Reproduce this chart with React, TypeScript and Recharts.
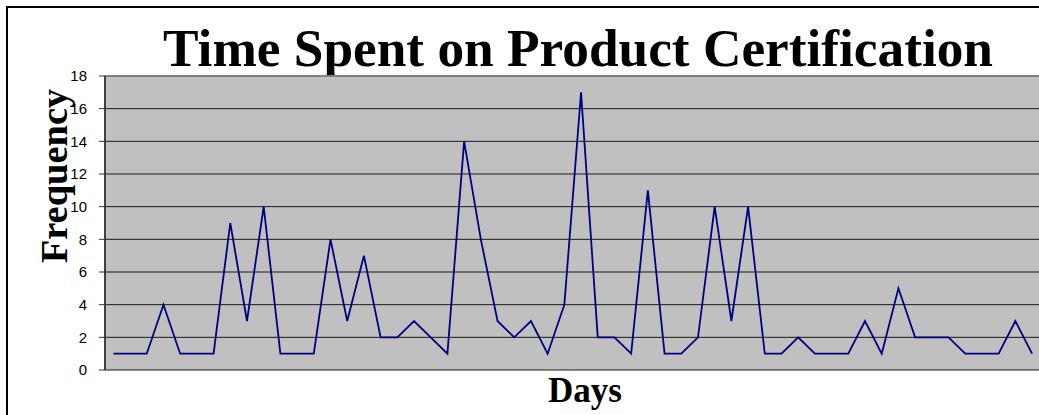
import { CartesianGrid, Label, Line, LineChart, ReferenceLine, XAxis, YAxis } from "recharts";

// one frequency per day
const days = Array.from({ length: 56 }, (_, i) => `${i + 1}`);
const frequency = [
  1, 1, 1, 4, 1, 1, 1, 9, 3, 10,
  1, 1, 1, 8, 3, 7, 2, 2, 3, 2,
  1, 14, 8, 3, 2, 3, 1, 4, 17, 2,
  2, 1, 11, 1, 1, 2, 10, 3, 10, 1,
  1, 2, 1, 1, 1, 3, 1, 5, 2, 2,
  2, 1, 1, 1, 3, 1,
];
const yTicks = [0, 2, 4, 6, 8, 10, 12, 14, 16, 18];

const data = days.map((day, i) => ({ day, value: frequency[i] }));

const serif = "'Liberation Serif', 'Times New Roman', serif";
const sans = "'Liberation Sans', Arial, sans-serif";

export default function App() {
  return (
    <div
      style={{
        position: "absolute",
        left: 0,
        top: 0,
        width: 1039,
        height: 415,
        overflow: "hidden",
        background: "#fff",
      }}
    >
      <div
        style={{
          position: "absolute",
          left: 6,
          top: 6,
          width: 1200,
          height: 600,
          border: "2px solid #000",
        }}
      />
      <div style={{ position: "absolute", left: 0, top: 0 }}>
        <LineChart
          width={1041}
          height={415}
          data={data}
          margin={{ top: 76, right: 0.6, bottom: 45, left: 0 }}
        >
          <text
            x={578}
            y={66}
            textAnchor="middle"
            fontFamily={serif}
            fontWeight="bold"
            fontSize={53.3}
            fill="#000"
          >
            Time Spent on Product Certification
          </text>
          <text
            x={585}
            y={402}
            textAnchor="middle"
            fontFamily={serif}
            fontWeight="bold"
            fontSize={35}
            fill="#000"
          >
            Days
          </text>
          <CartesianGrid vertical={false} fill="#c0c0c0" stroke="#1a1a1a" strokeWidth={1} />
          <XAxis
            dataKey="day"
            height={0}
            tick={false}
            tickLine={false}
            axisLine={{ stroke: "#808080", strokeWidth: 2 }}
            padding={{ left: 8.35, right: 8.35 }}
          />
          <YAxis
            width={105}
            domain={[0, 18]}
            ticks={yTicks}
            interval={0}
            tickSize={6}
            tickMargin={12}
            fontSize={15}
            fontFamily={sans}
            tick={{ fill: "#000", fontFamily: sans, fontSize: 15 }}
            tickLine={{ stroke: "#333" }}
            axisLine={{ stroke: "#404040", strokeWidth: 2 }}
          >
            <Label
              content={() => (
                <text
                  x={67}
                  y={176}
                  transform="rotate(-90, 67, 176)"
                  textAnchor="middle"
                  fontFamily={serif}
                  fontWeight="bold"
                  fontSize={38.5}
                  fill="#000"
                >
                  Frequency
                </text>
              )}
            />
          </YAxis>
          <ReferenceLine y={18} stroke="#808080" strokeWidth={2} />
          <Line
            type="linear"
            dataKey="value"
            stroke="#000080"
            strokeWidth={1.8}
            dot={false}
            isAnimationActive={false}
          />
        </LineChart>
      </div>
    </div>
  );
}
